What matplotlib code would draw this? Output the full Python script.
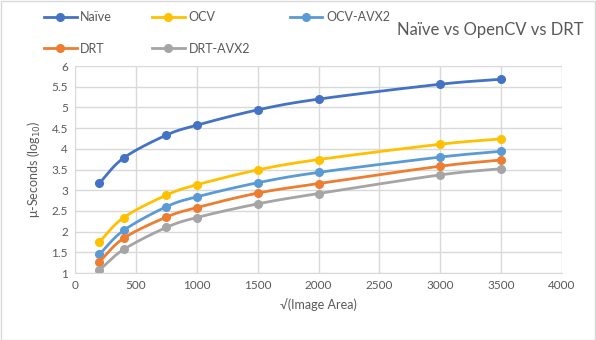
import numpy as np
import matplotlib
matplotlib.use("Agg")
import matplotlib.pyplot as plt
from matplotlib.patches import Rectangle

plt.rcParams['font.family'] = ['Lato', 'DejaVu Sans']

x = [200, 400, 750, 1000, 1500, 2000, 3000, 3500]
naive = [3.17, 3.78, 4.33, 4.57, 4.94, 5.20, 5.56, 5.68]
ocv = [1.75, 2.34, 2.88, 3.13, 3.49, 3.74, 4.11, 4.24]
ocv_avx2 = [1.45, 2.03, 2.60, 2.84, 3.18, 3.43, 3.80, 3.94]
drt = [1.27, 1.84, 2.35, 2.58, 2.93, 3.16, 3.58, 3.73]
drt_avx2 = [1.07, 1.57, 2.10, 2.34, 2.67, 2.92, 3.37, 3.52]

series = [("Naïve", naive, "#4472C4"), ("OCV", ocv, "#FFC000"),
          ("OCV-AVX2", ocv_avx2, "#5B9BD5"), ("DRT", drt, "#ED7D31"),
          ("DRT-AVX2", drt_avx2, "#A5A5A5")]

def smooth(xs, ys, n=30):
    xs = np.asarray(xs, float); ys = np.asarray(ys, float)
    px = np.concatenate([[2*xs[0]-xs[1]], xs, [2*xs[-1]-xs[-2]]])
    py = np.concatenate([[2*ys[0]-ys[1]], ys, [2*ys[-1]-ys[-2]]])
    ox, oy = [], []
    for i in range(1, len(px)-2):
        p0, p1, p2, p3 = [np.array([px[j], py[j]]) for j in range(i-1, i+3)]
        c1 = p1 + (p2 - p0) / 6.0
        c2 = p2 - (p3 - p1) / 6.0
        t = np.linspace(0, 1, n)[:, None]
        b = ((1-t)**3)*p1 + 3*((1-t)**2)*t*c1 + 3*(1-t)*t**2*c2 + t**3*p2
        ox.extend(b[:, 0]); oy.extend(b[:, 1])
    return ox, oy

fig = plt.figure(figsize=(5.96, 3.4), dpi=100)
fig.patches.append(Rectangle((0.001, 0.001), 0.997, 0.996, transform=fig.transFigure,
                             fill=False, edgecolor="#D9D9D9", linewidth=1))
ax = fig.add_axes([75/596, 1-273/340, (562-75)/596, (273-66)/340])

ms = 5.5
handles = []
for name, ys, c in series:
    sx, sy = smooth(x, ys)
    ax.plot(sx, sy, color=c, lw=2, solid_capstyle='round')
    ax.plot(x, ys, color=c, lw=2, marker='o', ms=ms, linestyle='none')
    handles.append(ax.plot([], [], color=c, lw=2, marker='o', ms=ms)[0])

ax.set_xlim(0, 4000)
ax.set_ylim(1, 6)
ax.set_xticks(np.arange(0, 4001, 500))
ax.set_yticks(np.arange(1, 6.01, 0.5))
ax.set_yticklabels([f"{v:g}" for v in np.arange(1, 6.01, 0.5)])
ax.grid(True, color="#D9D9D9", lw=1)
ax.set_axisbelow(True)
for s in ['top', 'right', 'left']:
    ax.spines[s].set_visible(False)
ax.spines['bottom'].set_color("#D9D9D9")
ax.tick_params(length=0, colors="#595959", labelsize=8.5, pad=5)
ax.set_xlabel("√(Image Area)", color="#595959", fontsize=9, labelpad=5)
ax.set_ylabel("μ-Seconds (log$_{10}$)", color="#595959", fontsize=9, labelpad=6)

# legend order: row1 Naive, OCV, OCV-AVX2 ; row2 DRT, DRT-AVX2
order = [0, 3, 1, 4, 2]
leg = fig.legend([handles[i] for i in order], [series[i][0] for i in order],
                 ncol=3, loc='upper left', bbox_to_anchor=(0.055, 1.0),
                 frameon=False, fontsize=9, handlelength=2.6, labelspacing=1.55,
                 columnspacing=3.2, handletextpad=0.3)
for t in leg.get_texts():
    t.set_color("#595959")

fig.text(490/596, 1-30/340, "Naïve vs OpenCV vs DRT", ha='center', va='center',
         fontsize=12, color="#595959")

fig.savefig("out.png", dpi=100)
